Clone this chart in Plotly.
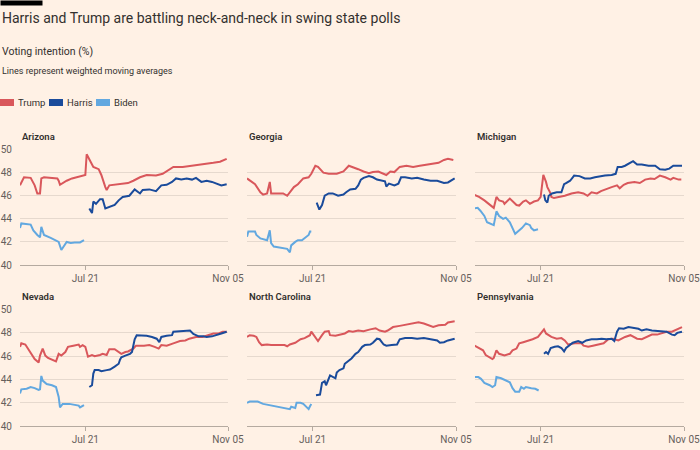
import pandas as pd
import plotly.graph_objects as go

# ---------------- data (day offsets relative to 21 Jul 2024, voting intention %) ----------------
STATES = ["Arizona", "Georgia", "Michigan", "Nevada", "North Carolina", "Pennsylvania"]
BASE_DATE = "2024-07-21"
X_START, X_END = "2024-06-02", "2024-11-05"
X_TICKS = ["2024-07-21", "2024-11-05"]
X_TICK_LABELS = ["Jul 21", "Nov 05"]
Y_TICKS = [40, 42, 44, 46, 48, 50]

AZ_TRUMP_DAYS = [-49, -46, -41, -40, -39, -38, -36, -34, -33, -31, -21, -20, -19, -16, -14, -10, -4, 0, 1, 3, 6, 10, 12, 15, 16, 18, 23, 28, 32, 36, 41, 46, 53, 58, 62, 66, 73, 81, 88, 96, 101, 106]
AZ_TRUMP = [46.9, 47.6, 47.55, 47.3, 47.0, 46.9, 46.2, 46.2, 47.5, 47.6, 47.5, 47.3, 46.95, 47.2, 47.3, 47.5, 47.7, 47.8, 49.6, 49.2, 48.5, 48.3, 47.8, 46.75, 46.5, 46.9, 46.95, 47.0, 47.1, 47.3, 47.6, 47.8, 47.75, 47.9, 48.2, 48.5, 48.5, 48.6, 48.75, 48.85, 48.95, 49.2]
AZ_HARRIS_DAYS = [3, 5, 6, 8, 11, 13, 15, 18, 22, 25, 28, 33, 37, 41, 43, 48, 53, 57, 61, 65, 68, 72, 76, 80, 83, 87, 91, 95, 100, 102, 106]
AZ_HARRIS = [44.9, 44.5, 45.5, 45.3, 45.7, 45.7, 44.9, 45.0, 45.2, 45.6, 45.9, 46.0, 46.55, 46.2, 46.5, 46.55, 46.4, 46.9, 46.95, 47.2, 47.5, 47.4, 47.5, 47.4, 47.55, 47.2, 47.3, 47.2, 47.0, 46.9, 47.0]
AZ_BIDEN_DAYS = [-49, -48, -41, -39, -36, -34, -33, -31, -26, -23, -20, -18, -16, -14, -11, -8, -4, -1]
AZ_BIDEN = [43.2, 43.6, 43.5, 43.0, 42.6, 42.4, 43.3, 42.6, 42.35, 42.2, 42.0, 41.3, 41.6, 42.0, 41.9, 41.95, 41.95, 42.15]

GA_TRUMP_DAYS = [-49, -47, -43, -39, -37, -34, -32, -31, -27, -22, -19, -17, -14, -11, -7, -3, -1, 2, 4, 8, 12, 18, 23, 27, 30, 34, 38, 42, 45, 49, 55, 58, 61, 65, 70, 75, 80, 85, 90, 94, 98, 101, 105]
GA_TRUMP = [47.5, 47.35, 47.0, 46.3, 46.1, 46.2, 47.2, 46.2, 46.2, 46.2, 46.0, 46.3, 46.75, 47.0, 47.5, 47.6, 47.9, 48.6, 48.5, 48.0, 47.9, 47.9, 48.1, 48.6, 48.5, 48.3, 48.1, 47.95, 48.05, 48.1, 47.8, 48.1, 48.05, 48.5, 48.6, 48.5, 48.6, 48.7, 48.8, 48.85, 49.1, 49.2, 49.1]
GA_HARRIS_DAYS = [3, 5, 7, 9, 12, 15, 19, 23, 25, 28, 32, 34, 36, 38, 42, 45, 48, 52, 54, 55, 57, 61, 64, 66, 69, 74, 78, 83, 88, 93, 98, 101, 104, 106]
GA_HARRIS = [45.4, 44.8, 45.2, 46.0, 46.2, 46.2, 46.0, 46.1, 46.3, 46.55, 46.6, 46.9, 47.4, 47.55, 47.7, 47.6, 47.4, 47.3, 47.25, 46.8, 47.05, 46.9, 47.05, 47.6, 47.6, 47.5, 47.55, 47.4, 47.3, 47.3, 47.1, 47.15, 47.4, 47.5]
GA_BIDEN_DAYS = [-49, -48, -43, -42, -39, -34, -32, -31, -29, -24, -21, -19, -17, -16, -13, -11, -8, -6, -3, -2, -1]
GA_BIDEN = [42.45, 42.9, 42.9, 42.6, 42.3, 42.15, 43.0, 41.9, 41.6, 41.5, 41.5, 41.4, 41.1, 41.7, 42.0, 42.15, 42.15, 42.3, 42.6, 42.9, 42.9]

MI_TRUMP_DAYS = [-50, -46, -42, -38, -35, -33, -31, -28, -27, -23, -21, -18, -16, -13, -11, -8, -5, -2, 0, 1, 2, 4, 5, 7, 8, 10, 14, 18, 23, 28, 32, 35, 38, 42, 45, 49, 53, 57, 59, 62, 65, 70, 74, 78, 82, 85, 89, 93, 97, 99, 103, 105]
MI_TRUMP = [46.1, 45.9, 45.6, 45.2, 44.95, 45.9, 45.6, 45.5, 45.3, 45.75, 45.5, 45.2, 45.15, 45.5, 45.6, 45.3, 45.5, 45.6, 45.9, 46.9, 47.8, 47.2, 46.75, 46.3, 45.9, 45.8, 45.9, 46.0, 46.2, 46.3, 46.2, 46.0, 46.3, 46.2, 46.4, 46.6, 46.75, 46.9, 46.65, 46.95, 47.1, 47.2, 47.1, 47.4, 47.5, 47.45, 47.75, 47.6, 47.4, 47.55, 47.4, 47.4]
MI_HARRIS_DAYS = [2.5, 3.5, 5, 6, 8.5, 12, 15.5, 17.5, 19, 22, 25, 29, 33, 37, 40.5, 44, 48, 53, 56, 57.5, 60.5, 63, 67, 69, 72, 75.5, 80.5, 85.5, 89, 93, 96, 99, 103, 105.5]
MI_HARRIS = [46.1, 45.6, 45.4, 46.0, 46.2, 46.3, 46.3, 47.0, 47.1, 47.3, 47.75, 47.7, 47.5, 47.5, 47.6, 47.7, 47.75, 47.8, 47.9, 48.5, 48.5, 48.6, 48.85, 49.0, 48.7, 48.7, 48.6, 48.6, 48.3, 48.25, 48.35, 48.6, 48.6, 48.6]
MI_BIDEN_DAYS = [-50, -47, -45, -42, -40, -36, -35, -33, -31, -28, -26, -23, -21, -19, -17, -14, -11, -8, -7, -5, -2]
MI_BIDEN = [44.9, 44.95, 44.7, 44.25, 43.7, 43.5, 43.45, 44.65, 44.25, 44.0, 44.1, 43.7, 43.2, 42.7, 42.9, 43.2, 43.6, 43.45, 43.2, 43.0, 43.1]

NV_TRUMP_DAYS = [-49, -48, -45, -43, -40, -38, -35, -34, -32, -30, -28, -24, -22, -20, -18, -15, -13, -9, -5, -4, -2, 0, 2, 5, 7, 11, 13, 16, 18, 22, 25, 27, 30, 32, 36, 38, 44, 48, 52, 55, 57, 61, 66, 71, 75, 78, 83, 88, 92, 96, 100, 103, 106]
NV_TRUMP = [46.8, 47.1, 47.0, 46.65, 46.2, 45.75, 45.45, 46.05, 46.65, 46.05, 45.85, 45.65, 45.55, 46.2, 46.05, 46.35, 46.8, 46.9, 47.0, 46.8, 46.95, 46.8, 45.95, 46.1, 46.0, 46.1, 46.2, 46.1, 46.6, 46.6, 46.35, 46.2, 46.35, 46.4, 46.65, 46.9, 46.9, 46.95, 46.8, 46.65, 46.95, 46.9, 47.1, 47.3, 47.35, 47.5, 47.65, 47.65, 47.8, 47.95, 47.95, 48.1, 48.1]
NV_HARRIS_DAYS = [3, 5, 6, 7, 10, 12, 16, 18.5, 22, 25, 26, 27, 30, 33.5, 35, 37, 38.5, 42, 46, 50, 53.5, 55.5, 57, 61, 65, 66, 70, 75, 78.5, 81, 85, 88.5, 91, 95, 98.5, 102, 106]
NV_HARRIS = [43.35, 43.5, 44.5, 44.8, 44.8, 44.7, 44.8, 44.85, 45.1, 45.35, 45.7, 45.9, 46.05, 46.2, 46.35, 47.45, 47.8, 47.8, 47.75, 47.65, 47.5, 47.2, 47.65, 47.75, 47.8, 48.1, 48.15, 48.2, 48.2, 47.9, 47.7, 47.7, 47.65, 47.7, 47.85, 47.95, 48.1]
NV_BIDEN_DAYS = [-49, -48, -44, -41, -38, -35, -34, -33, -32, -29, -25, -22, -20, -19, -18, -17, -12, -8, -5, -4, -1]
NV_BIDEN = [42.8, 43.15, 43.2, 43.35, 43.25, 43.1, 43.15, 44.3, 43.9, 43.6, 43.5, 43.35, 42.5, 41.6, 41.75, 41.9, 41.9, 41.8, 41.75, 41.6, 41.8]

NC_TRUMP_DAYS = [-49, -47, -44, -42, -40, -38, -34, -31, -26, -21, -19, -17, -13, -9, -6, -2, -1, 0.5, 2.5, 4, 7, 9, 12, 13, 17, 20, 24, 27, 30, 34, 38, 43, 47, 50, 54, 56, 60, 65, 69, 74, 79, 83, 86, 90, 94, 99, 101, 104, 106]
NC_TRUMP = [47.65, 47.8, 47.75, 47.65, 47.2, 46.95, 47.0, 46.95, 46.95, 46.95, 46.85, 47.0, 47.15, 47.45, 47.55, 47.8, 48.1, 47.85, 47.5, 47.3, 47.8, 48.1, 48.15, 47.8, 47.75, 47.85, 47.95, 48.15, 48.1, 48.2, 48.15, 48.3, 48.4, 48.2, 48.1, 48.2, 48.5, 48.6, 48.7, 48.8, 48.9, 48.8, 48.7, 48.5, 48.65, 48.7, 48.9, 49.0, 49.0]
NC_HARRIS_DAYS = [2.5, 5.5, 7, 9, 10, 12, 13, 17, 18, 20, 23, 24, 27, 29, 32, 34, 37, 39, 43, 45, 48, 50, 53, 55, 59, 63, 65, 69, 74, 78, 83, 88, 93, 95, 98, 101, 106]
NC_HARRIS = [42.65, 42.7, 43.7, 43.85, 43.5, 44.2, 44.35, 44.1, 44.6, 44.8, 44.95, 45.35, 45.65, 45.8, 46.2, 46.35, 46.8, 46.95, 47.0, 47.15, 47.5, 47.45, 47.0, 46.9, 46.95, 47.0, 47.45, 47.55, 47.55, 47.5, 47.55, 47.45, 47.35, 47.15, 47.2, 47.35, 47.5]
NC_BIDEN_DAYS = [-49, -47, -44, -41, -37, -33, -29, -24, -19, -17, -16, -13, -12, -9, -7, -5, -3, -2, -1]
NC_BIDEN = [42.0, 42.1, 42.1, 42.1, 41.9, 41.8, 41.75, 41.6, 41.5, 41.45, 41.65, 41.55, 42.0, 42.0, 41.9, 41.7, 41.45, 41.7, 41.9]

PA_TRUMP_DAYS = [-50, -46, -43, -41, -38, -36, -35, -33, -31, -27, -23, -21, -18, -16, -13, -10, -6, -2, 1, 2.5, 4, 8, 12, 15.5, 18, 20.5, 25.5, 30.5, 32, 35.5, 39, 43, 47, 50.5, 54, 58, 60.5, 63, 67, 69, 72, 75.5, 79, 83, 87, 90.5, 94, 98, 102, 105.5]
PA_TRUMP = [46.95, 46.7, 46.5, 46.1, 45.85, 45.75, 45.85, 46.5, 46.2, 46.05, 46.2, 46.5, 46.65, 47.1, 47.2, 47.3, 47.45, 47.65, 48.1, 48.3, 47.95, 47.65, 47.5, 47.55, 47.35, 47.0, 47.1, 47.1, 46.9, 46.8, 46.9, 47.0, 47.1, 47.45, 47.5, 47.35, 47.5, 47.65, 47.8, 47.65, 47.5, 47.45, 47.65, 47.85, 47.85, 48.0, 48.1, 48.1, 48.3, 48.5]
PA_HARRIS_DAYS = [2.5, 4, 5.5, 7.5, 10.5, 13, 15.5, 17.5, 19, 22, 24, 28, 31, 34, 38, 42, 45.5, 49, 53, 55, 57, 58.5, 62, 65.5, 69, 73, 75.5, 79, 83, 87, 90.5, 94, 98, 100, 102, 105.5]
PA_HARRIS = [46.2, 46.35, 46.2, 46.7, 46.8, 46.85, 46.7, 46.4, 46.7, 46.95, 47.15, 47.3, 47.15, 47.35, 47.45, 47.45, 47.5, 47.45, 47.5, 47.3, 48.1, 48.4, 48.35, 48.5, 48.4, 48.35, 48.2, 48.3, 48.2, 48.15, 48.1, 48.1, 47.85, 47.8, 48.0, 48.1]
PA_BIDEN_DAYS = [-50, -46.5, -44.5, -42, -38, -36, -34, -33, -29.5, -26, -23, -21, -19, -16, -14.5, -12.5, -11, -7, -4, -1.5]
PA_BIDEN = [44.2, 44.2, 44.05, 43.7, 43.5, 43.35, 43.5, 44.2, 44.1, 43.9, 43.75, 43.25, 42.95, 42.95, 43.35, 43.2, 43.35, 43.25, 43.2, 43.05]

TRUMP_DAYS = [AZ_TRUMP_DAYS, GA_TRUMP_DAYS, MI_TRUMP_DAYS, NV_TRUMP_DAYS, NC_TRUMP_DAYS, PA_TRUMP_DAYS]
TRUMP_VALS = [AZ_TRUMP, GA_TRUMP, MI_TRUMP, NV_TRUMP, NC_TRUMP, PA_TRUMP]
HARRIS_DAYS = [AZ_HARRIS_DAYS, GA_HARRIS_DAYS, MI_HARRIS_DAYS, NV_HARRIS_DAYS, NC_HARRIS_DAYS, PA_HARRIS_DAYS]
HARRIS_VALS = [AZ_HARRIS, GA_HARRIS, MI_HARRIS, NV_HARRIS, NC_HARRIS, PA_HARRIS]
BIDEN_DAYS = [AZ_BIDEN_DAYS, GA_BIDEN_DAYS, MI_BIDEN_DAYS, NV_BIDEN_DAYS, NC_BIDEN_DAYS, PA_BIDEN_DAYS]
BIDEN_VALS = [AZ_BIDEN, GA_BIDEN, MI_BIDEN, NV_BIDEN, NC_BIDEN, PA_BIDEN]

# ---------------- styling ----------------
BG = "#FFF1E5"
TRUMP_C = "#D9575B"
HARRIS_C = "#1A4B9B"
BIDEN_C = "#62A8E0"
GRID_C = "#E6D9CE"
AXIS_C = "#B5AAA0"
TEXT_C = "#33302E"
TICK_C = "#66605C"
FONT = "Roboto"

W, H = 700, 450
ML, MR, MT, MB = 20, 16, 149, 24
PW, PH = W - ML - MR, H - MT - MB


def fx(px):
    return (px - ML) / PW


def fy(py):
    return (H - MB - py) / PH


COL_PX = [(20, 228), (247, 456), (475, 684)]
ROW_PX = [(149, 265), (309, 426)]

base = pd.Timestamp(BASE_DATE)


def to_dates(days):
    return [base + pd.Timedelta(days=d) for d in days]


fig = go.Figure()
layout = dict(
    width=W, height=H, paper_bgcolor=BG, plot_bgcolor=BG,
    margin=dict(l=ML, r=MR, t=MT, b=MB, autoexpand=False),
    showlegend=False,
    font=dict(family=FONT, color=TEXT_C),
)

annotations = []
for i, state in enumerate(STATES):
    r, c = divmod(i, 3)
    n = "" if i == 0 else str(i + 1)
    xa, ya = "x" + n, "y" + n
    for days, vals, col in [
        (BIDEN_DAYS[i], BIDEN_VALS[i], BIDEN_C),
        (TRUMP_DAYS[i], TRUMP_VALS[i], TRUMP_C),
        (HARRIS_DAYS[i], HARRIS_VALS[i], HARRIS_C),
    ]:
        fig.add_trace(go.Scatter(
            x=to_dates(days), y=vals, mode="lines",
            line=dict(color=col, width=2), xaxis=xa, yaxis=ya,
            hoverinfo="skip",
        ))
    x0, x1 = COL_PX[c]
    y0, y1 = ROW_PX[r]
    layout["xaxis" + n] = dict(
        domain=[fx(x0), fx(x1)], anchor=ya, range=[X_START, X_END],
        tickvals=X_TICKS, ticktext=X_TICK_LABELS, showgrid=False,
        showline=True, linecolor=AXIS_C, linewidth=1,
        ticks="outside", ticklen=4, tickcolor=AXIS_C,
        tickfont=dict(size=10, color=TICK_C, family=FONT), zeroline=False,
        fixedrange=True, automargin=False, ticklabeloverflow="allow",
    )
    layout["yaxis" + n] = dict(
        domain=[fy(y1), fy(y0)], anchor=xa, range=[40, 50.05],
        tickvals=Y_TICKS, showgrid=True, gridcolor=GRID_C, gridwidth=1,
        showticklabels=(c == 0), ticks="", zeroline=False, showline=False,
        tickfont=dict(size=10, color=TICK_C, family=FONT), ticklabelstandoff=7,
        fixedrange=True, automargin=False, ticklabeloverflow="allow",
    )
    annotations.append(dict(
        text=state, x=fx(x0), y=fy(ROW_PX[r][0] - 13), xref="paper", yref="paper",
        xanchor="left", yanchor="middle", showarrow=False,
        font=dict(size=9.5, color=TEXT_C, family=FONT, weight=600),
    ))

annotations += [
    dict(text="Harris and Trump are battling neck-and-neck in swing state polls",
         x=fx(0), y=fy(18), xref="paper", yref="paper", xanchor="left", yanchor="middle",
         showarrow=False, font=dict(size=14, color=TEXT_C, family=FONT)),
    dict(text="Voting intention (%)", x=fx(0), y=fy(51), xref="paper", yref="paper",
         xanchor="left", yanchor="middle", showarrow=False,
         font=dict(size=10.5, color=TEXT_C, family=FONT)),
    dict(text="Lines represent weighted moving averages", x=fx(0), y=fy(71), xref="paper",
         yref="paper", xanchor="left", yanchor="middle", showarrow=False,
         font=dict(size=9, color=TEXT_C, family=FONT)),
    # black FT-style bar at the top-left corner
    dict(text=" ", x=fx(0), y=fy(0), xref="paper", yref="paper", xanchor="left", yanchor="top",
         showarrow=False, width=41, height=4, bgcolor="#000000", borderpad=0,
         font=dict(size=2)),
]

shapes = []
LEGEND = [("Trump", TRUMP_C, 0), ("Harris", HARRIS_C, 49), ("Biden", BIDEN_C, 96)]
for name, col, lx in LEGEND:
    shapes.append(dict(type="rect", xref="paper", yref="paper", x0=fx(lx), x1=fx(lx + 14),
                       y0=fy(106), y1=fy(99), fillcolor=col, line=dict(width=0)))
    annotations.append(dict(text=name, x=fx(lx + 16), y=fy(102.5), xref="paper", yref="paper",
                            xanchor="left", yanchor="middle", showarrow=False,
                            font=dict(size=9.5, color=TEXT_C, family=FONT)))

layout["annotations"] = annotations
layout["shapes"] = shapes
fig.update_layout(**layout)
fig.write_html("out.html")
